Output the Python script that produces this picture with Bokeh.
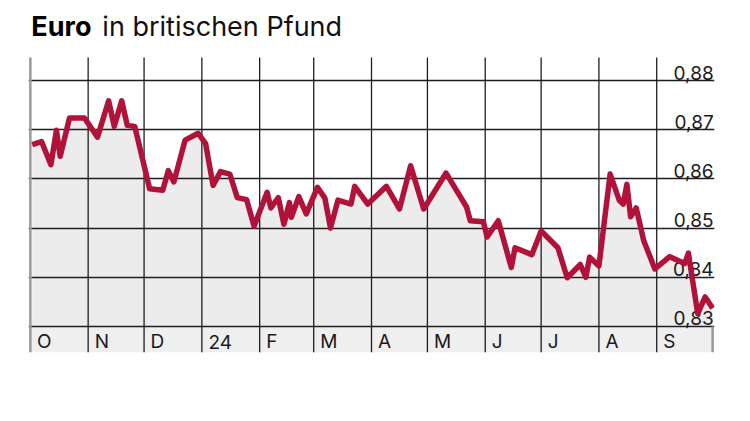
import pandas as pd
from bokeh.plotting import figure
from bokeh.models import Range1d, FixedTicker
from bokeh.core.properties import value
from bokeh.embed import file_html
from bokeh.resources import INLINE

# ---- data ----
dates = [
    "2023-10-02", "2023-10-07", "2023-10-12", "2023-10-15", "2023-10-17", "2023-10-22",
    "2023-10-30", "2023-11-06", "2023-11-12", "2023-11-15", "2023-11-19", "2023-11-22",
    "2023-11-26", "2023-12-04", "2023-12-11", "2023-12-14", "2023-12-17", "2023-12-23",
    "2023-12-30", "2024-01-03", "2024-01-07", "2024-01-11", "2024-01-16", "2024-01-20",
    "2024-01-25", "2024-01-29", "2024-02-05", "2024-02-07", "2024-02-11", "2024-02-14",
    "2024-02-17", "2024-02-18", "2024-02-22", "2024-02-26", "2024-03-03", "2024-03-07",
    "2024-03-10", "2024-03-14", "2024-03-21", "2024-03-23", "2024-03-30", "2024-04-09",
    "2024-04-16", "2024-04-22", "2024-04-29", "2024-05-11", "2024-05-22", "2024-05-24",
    "2024-05-31", "2024-06-02", "2024-06-08", "2024-06-15", "2024-06-17", "2024-06-26",
    "2024-07-01", "2024-07-10", "2024-07-15", "2024-07-22", "2024-07-25", "2024-07-27",
    "2024-08-01", "2024-08-07", "2024-08-12", "2024-08-14", "2024-08-16", "2024-08-18",
    "2024-08-21", "2024-08-25", "2024-08-31", "2024-09-08", "2024-09-16", "2024-09-18",
    "2024-09-23", "2024-09-27", "2024-10-01",
]
rates = [
    0.8670, 0.8676, 0.8629, 0.8699, 0.8646, 0.8724,
    0.8724, 0.8685, 0.8759, 0.8707, 0.8759, 0.8709,
    0.8707, 0.8580, 0.8577, 0.8617, 0.8594, 0.8679,
    0.8693, 0.8672, 0.8587, 0.8615, 0.8610, 0.8562,
    0.8558, 0.8504, 0.8573, 0.8541, 0.8562, 0.8508,
    0.8552, 0.8522, 0.8564, 0.8529, 0.8583, 0.8561,
    0.8500, 0.8557, 0.8549, 0.8585, 0.8549, 0.8585,
    0.8539, 0.8627, 0.8539, 0.8612, 0.8543, 0.8515,
    0.8513, 0.8482, 0.8515, 0.8420, 0.8460, 0.8446,
    0.8494, 0.8460, 0.8399, 0.8426, 0.8400, 0.8441,
    0.8423, 0.8610, 0.8556, 0.8549, 0.8589, 0.8523,
    0.8541, 0.8475, 0.8417, 0.8442, 0.8428, 0.8449,
    0.8326, 0.8360, 0.8337,
]
month_starts = [
    "2023-10-01", "2023-11-01", "2023-12-01", "2024-01-01", "2024-02-01", "2024-03-01",
    "2024-04-01", "2024-05-01", "2024-06-01", "2024-07-01", "2024-08-01", "2024-09-01",
]
period_end = "2024-10-01"
month_labels = ["O", "N", "D", "24", "F", "M", "A", "M", "J", "J", "A", "S"]
y_ticks = [0.83, 0.84, 0.85, 0.86, 0.87, 0.88]
y_labels = ["0,83", "0,84", "0,85", "0,86", "0,87", "0,88"]
title_bold = "Euro"
title_rest = "in britischen Pfund"

# ---- styling ----
LINE = "#b0123a"
FILL = "#ececec"
GRID = "#1e1e1e"
FONT = "Inter"

x = pd.to_datetime(dates)
ms = pd.to_datetime(month_starts)
p_end = pd.Timestamp(period_end)
x_start = ms[0] - pd.Timedelta(days=1)
x_end = p_end + pd.Timedelta(days=1)
y_bottom = 0.8247        # bottom of label band
grid_top = 0.8847        # where vertical rules begin
y_frame_top = 0.8963     # top of canvas (title area)
base = y_ticks[0]

p = figure(
    width=742, height=380,
    x_axis_type="datetime",
    x_axis_location=None, y_axis_location=None,
    x_range=Range1d(x_start, x_end), y_range=Range1d(y_bottom, y_frame_top),
    output_backend="svg", toolbar_location=None,
    min_border_left=28, min_border_right=28, min_border_top=0, min_border_bottom=28,
)
p.outline_line_color = None
p.background_fill_color = "white"
p.border_fill_color = "white"

p.xgrid.visible = False
p.ygrid.ticker = FixedTicker(ticks=y_ticks)
p.ygrid.grid_line_color = GRID
p.ygrid.grid_line_width = 1.3

# area under line and label band (drawn beneath grid)
p.varea(x=x, y1=base, y2=rates, fill_color=FILL, level="image")
p.quad(left=[ms[0]], right=[p_end], bottom=[y_bottom], top=[base],
       fill_color="#efefef", line_color=None, level="image")

# vertical month rules
inner = list(ms[1:])
p.segment(x0=inner, y0=[y_bottom] * len(inner), x1=inner, y1=[grid_top] * len(inner),
          line_color=GRID, line_width=1.3, level="underlay")

# gray frame lines
p.segment(x0=[ms[0]], y0=[y_bottom], x1=[ms[0]], y1=[grid_top], line_color="#9a9a9a", line_width=2.5)
p.segment(x0=[p_end], y0=[y_bottom], x1=[p_end], y1=[base], line_color="#9a9a9a", line_width=2.5)

# month labels in the band
label_x = [t + pd.Timedelta(hours=84) for t in ms]
p.text(x=label_x, y=[base - 0.00437] * len(label_x), text=month_labels,
       text_align="left", text_baseline="alphabetic", y_offset=-6,
       text_font=value(FONT), text_font_size="19px", text_color="#1a1a1a")

# value labels above gridlines
p.text(x=[p_end] * len(y_ticks), y=y_ticks, text=y_labels,
       text_align="right", text_baseline="alphabetic", x_offset=1, y_offset=-8,
       text_font=value(FONT), text_font_size="19px", text_color="#1a1a1a")

# the line
p.line(x=x, y=rates, line_color=LINE, line_width=5.5, line_join="round")

# title
p.text(x=[ms[0]], y=[y_frame_top], text=[title_bold], x_offset=1, y_offset=26,
       text_align="left", text_baseline="alphabetic",
       text_font=value(FONT), text_font_size="27px", text_font_style="bold",
       text_color="#000000")
p.text(x=[ms[0]], y=[y_frame_top], text=[title_rest], x_offset=72, y_offset=26,
       text_align="left", text_baseline="alphabetic",
       text_font=value(FONT), text_font_size="27px",
       text_color="#111111")

open("out.html", "w").write(file_html(p, INLINE))
